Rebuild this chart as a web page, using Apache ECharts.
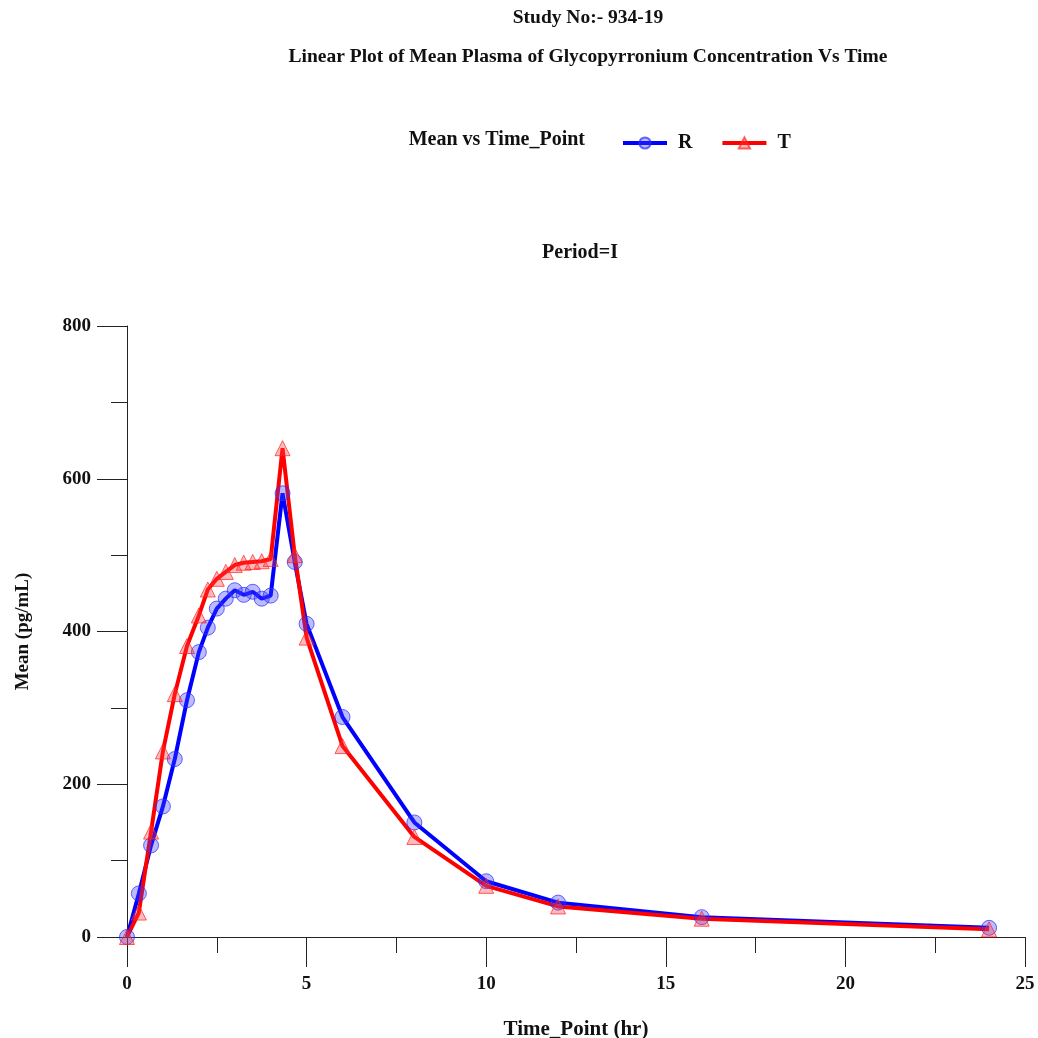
<!DOCTYPE html>
<html>
<head>
<meta charset="utf-8">
<script src="https://cdn.jsdelivr.net/npm/echarts@6/dist/echarts.min.js"></script>
<style>
  html, body { margin: 0; padding: 0; background: #fff; }
  #chart { width: 1038px; height: 1038px; }
</style>
</head>
<body>
<div id="chart"></div>
<script>
// time points (hr)
var timePoints = [0, 0.33, 0.67, 1, 1.33, 1.67, 2, 2.25, 2.5, 2.75, 3, 3.25, 3.5, 3.75, 4, 4.33, 4.67, 5, 6, 8, 10, 12, 16, 24];
// mean plasma concentration (pg/mL)
var meanR = [0, 57, 120, 171, 233, 310, 373, 405, 430, 443, 454, 448, 452, 443, 447, 581, 491, 410, 288, 150, 73, 45, 26, 12];
var meanT = [0, 32, 138, 243, 318, 381, 421, 455, 469, 478, 487, 490, 491, 492, 495, 640, 500, 392, 250, 131, 67, 40, 24, 10];
var xTicks = [0, 5, 10, 15, 20, 25];
var yTicks = [0, 200, 400, 600, 800];

var font = 'Liberation Serif';

function pairs(xs, ys) {
    var out = [];
    for (var i = 0; i < xs.length; i++) {
        out.push([xs[i], ys[i]]);
    }
    return out;
}

var chart = echarts.init(document.getElementById('chart'));

var axisCommon = {
    axisLine: { show: true, lineStyle: { color: '#222', width: 1 } },
    axisTick: { show: true, inside: false, length: 30, lineStyle: { color: '#222', width: 1 } },
    minorTick: { show: true, splitNumber: 2, length: 16, lineStyle: { color: '#222', width: 1 } },
    splitLine: { show: false },
    axisLabel: { color: '#111', fontFamily: font, fontWeight: 'bold', fontSize: 19, margin: 36 },
    nameTextStyle: { color: '#111', fontFamily: font, fontWeight: 'bold', fontSize: 19 }
};

var option = {
    backgroundColor: '#fff',
    animation: false,
    graphic: [
        { type: 'text', x: 588, y: 18, style: { text: 'Study No:- 934-19', font: 'bold 19.5px ' + font, fill: '#111', align: 'center', verticalAlign: 'middle' } },
        { type: 'text', x: 588, y: 57, style: { text: 'Linear Plot of Mean Plasma of Glycopyrronium Concentration Vs Time', font: 'bold 19.5px ' + font, fill: '#111', align: 'center', verticalAlign: 'middle' } },
        { type: 'text', x: 585, y: 140, style: { text: 'Mean vs Time_Point', font: 'bold 20px ' + font, fill: '#111', align: 'right', verticalAlign: 'middle' } },
        { type: 'text', x: 580, y: 253, style: { text: 'Period=I', font: 'bold 20px ' + font, fill: '#111', align: 'center', verticalAlign: 'middle' } }
    ],
    legend: {
        left: 621,
        top: 133,
        padding: 0,
        itemWidth: 44,
        itemHeight: 14,
        itemGap: 28,
        lineStyle: { width: 4 },
        textStyle: { color: '#111', fontFamily: font, fontWeight: 'bold', fontSize: 20, padding: [0, 0, 0, 6] },
        data: ['R', 'T']
    },
    grid: { left: 127, right: 13, top: 326, bottom: 101, containLabel: false, outerBoundsMode: 'none' },
    xAxis: Object.assign({}, axisCommon, {
        type: 'value',
        min: xTicks[0],
        max: xTicks[xTicks.length - 1],
        interval: 5,
        name: 'Time_Point (hr)',
        nameLocation: 'middle',
        nameGap: 82,
        axisLabel: Object.assign({}, axisCommon.axisLabel, { margin: 38 }),
        nameTextStyle: Object.assign({}, axisCommon.nameTextStyle, { fontSize: 21 })
    }),
    yAxis: Object.assign({}, axisCommon, {
        type: 'value',
        min: yTicks[0],
        max: yTicks[yTicks.length - 1],
        interval: 200,
        name: 'Mean (pg/mL)',
        nameLocation: 'middle',
        nameGap: 94
    }),
    series: [
        {
            name: 'R',
            type: 'line',
            data: pairs(timePoints, meanR),
            symbol: 'circle',
            symbolSize: 15,
            lineStyle: { color: '#0000ff', width: 4 },
            itemStyle: { color: 'rgba(60,60,255,0.35)', borderColor: 'rgba(40,40,255,0.7)', borderWidth: 1 }
        },
        {
            name: 'T',
            type: 'line',
            data: pairs(timePoints, meanT),
            symbol: 'triangle',
            symbolSize: 15,
            lineStyle: { color: '#ff0000', width: 4 },
            itemStyle: { color: 'rgba(255,60,60,0.35)', borderColor: 'rgba(255,30,30,0.7)', borderWidth: 1 }
        }
    ]
};

chart.setOption(option);
</script>
</body>
</html>
